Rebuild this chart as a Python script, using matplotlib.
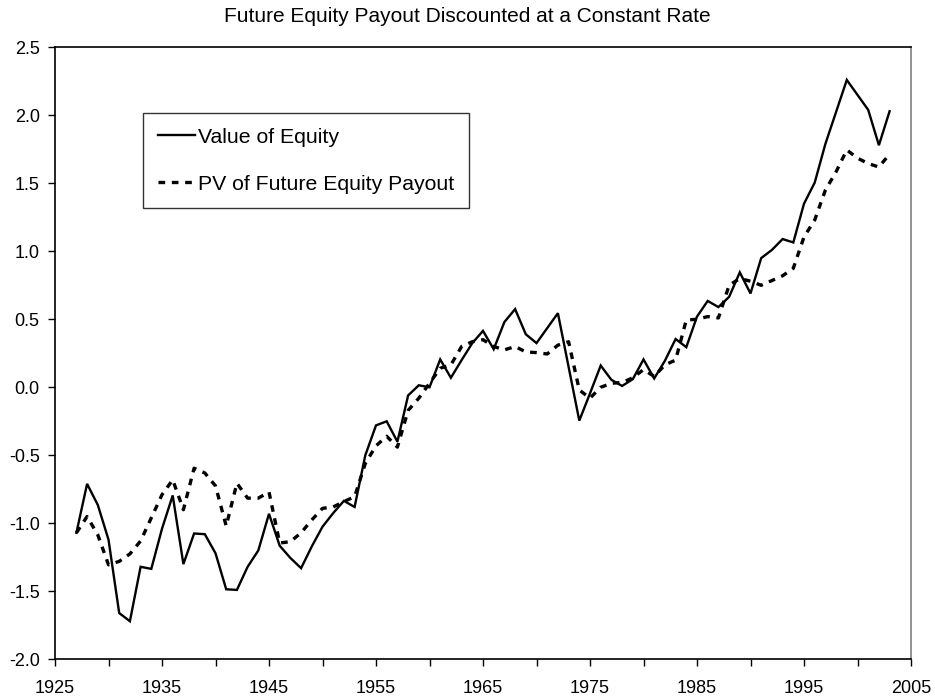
import matplotlib
matplotlib.use("Agg")
import matplotlib.pyplot as plt
from matplotlib.ticker import MultipleLocator, FixedLocator

plt.rcParams['font.family'] = ['Liberation Sans', 'DejaVu Sans']

years = list(range(1927, 2004))

value_of_equity = [
    -1.07, -0.71, -0.865, -1.12, -1.66, -1.72, -1.32, -1.335, -1.04, -0.795,
    -1.30, -1.075, -1.08, -1.22, -1.485, -1.49, -1.32, -1.20, -0.93, -1.165,
    -1.255, -1.33, -1.17, -1.025, -0.925, -0.835, -0.88, -0.50, -0.28, -0.25,
    -0.40, -0.06, 0.015, 0.0, 0.205, 0.07, 0.20, 0.325, 0.415, 0.28,
    0.48, 0.575, 0.39, 0.325, 0.435, 0.545, 0.15, -0.245, -0.045, 0.16,
    0.055, 0.01, 0.06, 0.205, 0.065, 0.195, 0.355, 0.295, 0.52, 0.635,
    0.59, 0.665, 0.845, 0.69, 0.95, 1.01, 1.09, 1.065, 1.35, 1.505,
    1.79, 2.025, 2.26, 2.15, 2.04, 1.78, 2.03,
]

pv_future_payout = [
    -1.07, -0.95, -1.085, -1.305, -1.28, -1.225, -1.13, -0.96, -0.79, -0.68,
    -0.90, -0.595, -0.63, -0.725, -1.02, -0.705, -0.815, -0.815, -0.77, -1.145,
    -1.135, -1.07, -0.975, -0.89, -0.88, -0.84, -0.805, -0.56, -0.43, -0.36,
    -0.44, -0.17, -0.08, 0.03, 0.14, 0.165, 0.30, 0.335, 0.35, 0.30,
    0.275, 0.30, 0.26, 0.255, 0.245, 0.31, 0.335, -0.02, -0.08, 0.00,
    0.03, 0.035, 0.07, 0.13, 0.08, 0.165, 0.20, 0.495, 0.50, 0.52,
    0.51, 0.75, 0.80, 0.78, 0.75, 0.785, 0.82, 0.875, 1.105, 1.23,
    1.45, 1.585, 1.745, 1.685, 1.645, 1.62, 1.715,
]

title = "Future Equity Payout Discounted at a Constant Rate"
series_labels = ["Value of Equity", "PV of Future Equity Payout"]
x_tick_labels = ["1925", "1935", "1945", "1955", "1965", "1975", "1985", "1995", "2005"]
y_tick_values = [-2.0, -1.5, -1.0, -0.5, 0.0, 0.5, 1.0, 1.5, 2.0, 2.5]

fig = plt.figure(figsize=(9.35, 7.0), dpi=100)
ax = fig.add_axes([55/935, 1-659.3/700, (911-55)/935, (659.3-47.3)/700])

ax.plot(years, value_of_equity, color='black', lw=1.7, solid_joinstyle='miter',
        label=series_labels[0])
ax.plot(years, pv_future_payout, color='black', lw=2.4, linestyle=(0, (2.0, 2.0)),
        dash_capstyle='butt', label=series_labels[1])

ax.set_xlim(1925, 2005)
ax.set_ylim(-2.0, 2.5)
ax.xaxis.set_major_locator(FixedLocator([int(t) for t in x_tick_labels]))
ax.set_xticklabels(x_tick_labels)
ax.xaxis.set_minor_locator(MultipleLocator(5))
ax.set_yticks(y_tick_values)
ax.set_yticklabels([f"{v:.1f}" for v in y_tick_values])

ax.tick_params(axis='both', which='both', direction='out', length=5, width=1, color='black',
               labelsize=13)
ax.tick_params(axis='x', which='major', pad=10)
ax.tick_params(axis='y', which='major', pad=6)

for s in ['left', 'bottom', 'top']:
    ax.spines[s].set_color('black')
    ax.spines[s].set_linewidth(1.2)
ax.spines['right'].set_color('#808080')
ax.spines['right'].set_linewidth(1.2)

fig.text(0.5, 1-17/700, title, ha='center', va='center', fontsize=15)

leg = ax.legend(loc='upper left', bbox_to_anchor=((143-55)/856, (659.3-113)/612),
                borderaxespad=0, fancybox=False, frameon=True, edgecolor='black',
                fontsize=15.3, handlelength=1.75, handletextpad=0.15, labelspacing=1.3,
                borderpad=0.7)
leg.get_frame().set_linewidth(1.0)

fig.savefig("out.png", dpi=100)
